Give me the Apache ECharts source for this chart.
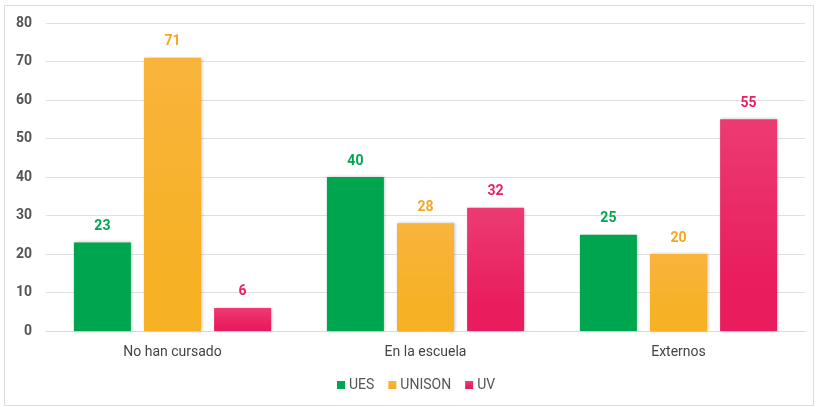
<!doctype html>
<html>
<head>
<meta charset="utf-8">
<title></title>
<style>
  html, body { margin: 0; padding: 0; background: #fff; }
  #chart { width: 818px; height: 407px; }
</style>
</head>
<body>
<div id="chart"></div>
<script src="https://cdn.jsdelivr.net/npm/echarts@6/dist/echarts.min.js"></script>
<script>
var categories = ['No han cursado', 'En la escuela', 'Externos'];
var ues = [23, 40, 25];
var unison = [71, 28, 20];
var uv = [6, 32, 55];
var yTicks = [0, 10, 20, 30, 40, 50, 60, 70, 80];

function grad(top, bottom) {
    return new echarts.graphic.LinearGradient(0, 0, 0, 1, [
        { offset: 0, color: top },
        { offset: 0.8, color: bottom },
        { offset: 1, color: bottom }
    ]);
}

var myChart = echarts.init(document.getElementById('chart'));

function mkSeries(name, data, fill, labelColor) {
    return {
        name: name,
        type: 'bar',
        data: data,
        barWidth: 57,
        barGap: '23%',
        itemStyle: {
            color: fill,
            shadowColor: 'rgba(0,0,0,0.25)',
            shadowBlur: 3,
            shadowOffsetX: 1,
            shadowOffsetY: 0
        },
        label: {
            show: true,
            position: 'top',
            distance: 9,
            color: labelColor,
            fontFamily: 'Roboto',
            fontWeight: 'bold',
            fontSize: 14
        }
    };
}

var option = {
    animation: false,
    graphic: [{
        type: 'rect',
        shape: { x: 4.5, y: 5.5, width: 809, height: 400 },
        style: { fill: 'none', stroke: '#dcdcdc', lineWidth: 1 },
        silent: true
    }],
    grid: { left: 46, right: 13, top: 23, bottom: 76 },
    legend: {
        left: 332,
        bottom: 10,
        itemWidth: 8,
        itemHeight: 8,
        itemGap: 14,
        icon: 'rect',
        textStyle: { color: '#555', fontSize: 14, fontFamily: 'Roboto', padding: [0, 0, 0, -1] },
        data: ['UES', 'UNISON', 'UV']
    },
    xAxis: {
        type: 'category',
        data: categories,
        axisTick: { show: false },
        axisLine: { lineStyle: { color: '#d9d9d9' } },
        axisLabel: { color: '#444', fontSize: 14, fontFamily: 'Roboto', margin: 14 }
    },
    yAxis: {
        type: 'value',
        min: yTicks[0],
        max: yTicks[yTicks.length - 1],
        interval: 10,
        axisLine: { show: false },
        axisTick: { show: false },
        splitLine: { lineStyle: { color: '#e0e0e0' } },
        axisLabel: { color: '#555', fontSize: 14, fontWeight: 'bold', fontFamily: 'Roboto', margin: 14 }
    },
    series: [
        mkSeries('UES', ues, '#00A64F', '#00A64F'),
        mkSeries('UNISON', unison, grad('#F9B43C', '#F6B125'), '#F6A623'),
        mkSeries('UV', uv, grad('#EC3B72', '#E91C5E'), '#E91E63')
    ]
};
myChart.setOption(option);
</script>
</body>
</html>
